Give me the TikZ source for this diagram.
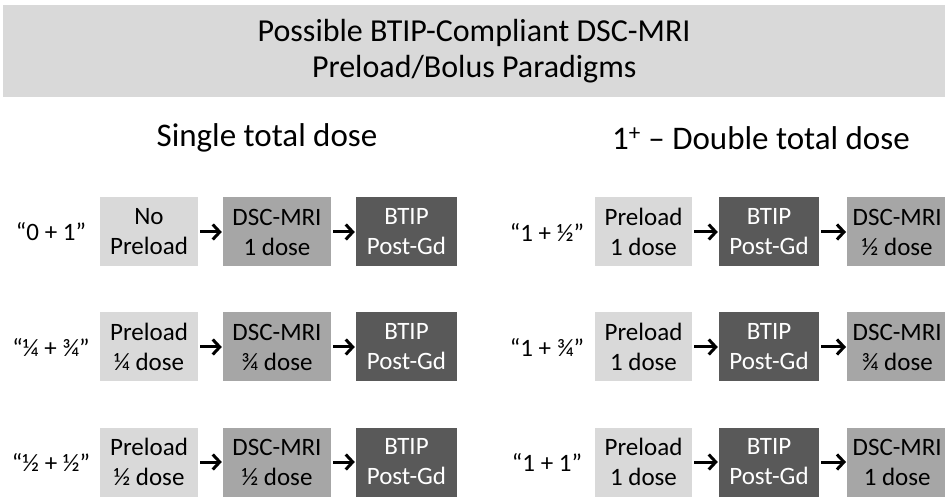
\documentclass[tikz,border=0pt]{standalone}
\usepackage{fontspec}
\setmainfont{Carlito}
\usetikzlibrary{arrows.meta}
\definecolor{hdr}{HTML}{D9D9D9}
\definecolor{lite}{HTML}{D9D9D9}
\definecolor{mid}{HTML}{A6A6A6}
\definecolor{dark}{HTML}{595959}
\tikzset{
  box/.style={minimum height=69pt, inner sep=0pt, align=center, font=\fontsize{25}{30}\selectfont},
  lbox/.style={box, fill=lite, text=black},
  mbox/.style={box, fill=mid, text=black},
  dbox/.style={box, fill=dark, text=white},
  lab/.style={font=\fontsize{25}{30}\selectfont, anchor=center},
  arr/.style={-{Straight Barb[length=7pt,width=15pt,line width=3pt]}, line width=3pt, shorten <=2pt, shorten >=1pt},
  sub/.style={font=\fontsize{33}{38}\selectfont}
}
\begin{document}
\begin{tikzpicture}[x=1pt,y=-1pt]
\useasboundingbox (0,0) rectangle (945,502);
\node[fill=hdr, minimum width=942pt, minimum height=92pt, inner sep=0pt, anchor=north west, align=center,
  font=\fontsize{32}{36}\selectfont] (title) at (3,5) {Possible BTIP-Compliant DSC-MRI\\Preload/Bolus Paradigms};
\node[sub] (s1) at (267,138) {Single total dose};
\node[sub] (s2) at (761,138) {1\textsuperscript{+} – Double total dose};
% left column
\foreach \r/\y/\lt/\at/\bt in {1/232/{“0 + 1”}/{No\\Preload}/{DSC-MRI\\1 dose},
                              2/347/{“¼ + ¾”}/{Preload\\¼ dose}/{DSC-MRI\\¾ dose},
                              3/462/{“½ + ½”}/{Preload\\½ dose}/{DSC-MRI\\½ dose}}{
  \node[lab] (L\r) at (51,\y) {\lt};
  \node[lbox, minimum width=98pt] (La\r) at (149,\y) {\at};
  \node[mbox, minimum width=108pt] (Lb\r) at (277,\y) {\bt};
  \node[dbox, minimum width=101pt] (Lc\r) at (406.5,\y) {BTIP\\Post-Gd};
  \draw[arr] (La\r) -- (Lb\r);
  \draw[arr] (Lb\r) -- (Lc\r);
}
% right column
\foreach \r/\y/\lt/\ct in {1/232/{“1 + ½”}/{DSC-MRI\\½ dose},
                          2/347/{“1 + ¾”}/{DSC-MRI\\¾ dose},
                          3/462/{“1 + 1”}/{DSC-MRI\\1 dose}}{
  \node[lab] (R\r) at (547,\y) {\lt};
  \node[lbox, minimum width=97pt] (Ra\r) at (643.5,\y) {Preload\\1 dose};
  \node[dbox, minimum width=100pt] (Rb\r) at (769,\y) {BTIP\\Post-Gd};
  \node[mbox, minimum width=100pt, anchor=west] (Rc\r) at (847,\y) {\ct};
  \draw[arr] (Ra\r) -- (Rb\r);
  \draw[arr] (Rb\r) -- (Rc\r);
}
\end{tikzpicture}
\end{document}
